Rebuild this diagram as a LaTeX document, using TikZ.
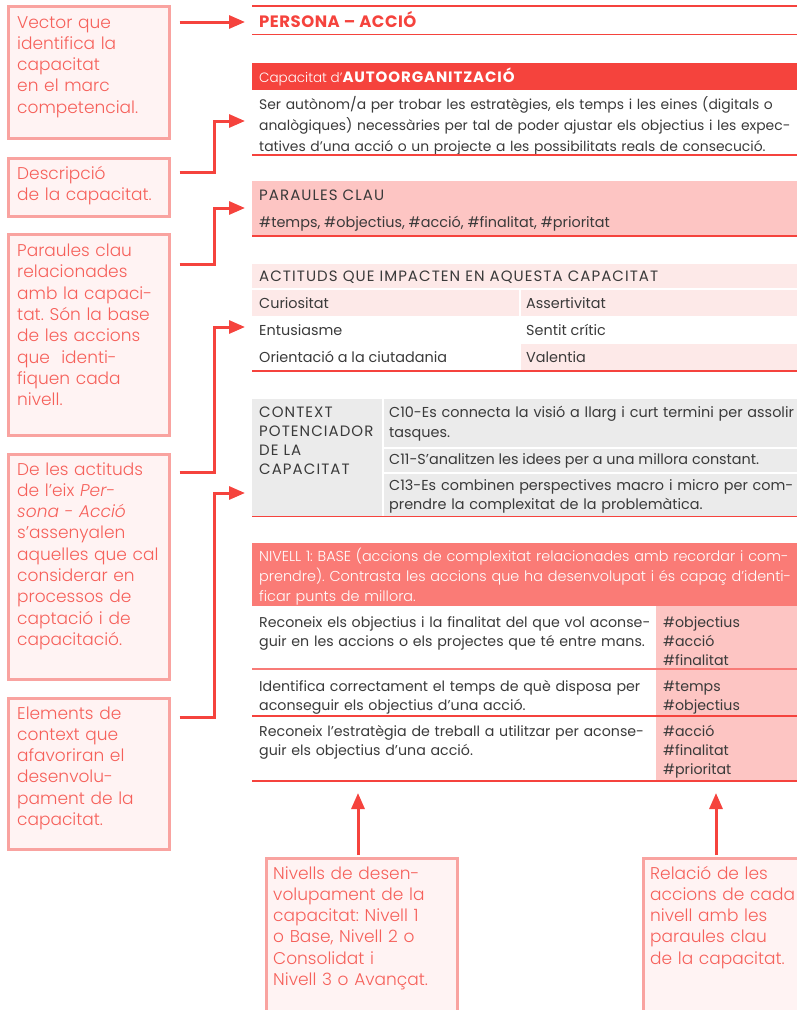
\documentclass[tikz,border=0pt]{standalone}
\usepackage{fontspec}
\usetikzlibrary{arrows.meta}
\setmainfont{Poppins}
\IfFontExistsTF{Poppins Light}{%
  \IfFontExistsTF{Poppins Light Italic}%
    {\newfontfamily\lightfont{Poppins Light}[ItalicFont={Poppins Light Italic}]}%
    {\newfontfamily\lightfont{Poppins Light}[AutoFakeSlant=0.2]}%
}{\newfontfamily\lightfont{Poppins}}

\definecolor{accent}{HTML}{F5433D}
\definecolor{boxedge}{HTML}{F9A3A0}
\definecolor{boxfill}{HTML}{FFF3F3}
\definecolor{boxtext}{HTML}{F6605A}
\definecolor{keypink}{HTML}{FDC5C3}
\definecolor{softpink}{HTML}{FDE9E8}
\definecolor{ctxgray}{HTML}{EBEBEB}
\definecolor{levelbar}{HTML}{FA7B76}
\definecolor{bodytext}{HTML}{3A3A3A}

% wide capitals used in the table headings
\newcommand{\capsfont}{\fontsize{15}{19}\selectfont\addfontfeature{LetterSpace=7}}
% one justified line of the description
\newcommand{\fullline}[1]{\makebox[533pt][s]{#1}}

\begin{document}
\frenchspacing
\begin{tikzpicture}[x=1pt,y=-1pt,
  note/.style={draw=boxedge, line width=2.6pt, fill=boxfill, anchor=north west, inner sep=0pt},
  notetext/.style={anchor=base west, inner sep=0pt, text width=#1, align=left, text=boxtext,
    font=\lightfont\fontsize{17}{21.3}\selectfont},
  body/.style={anchor=base west, inner sep=0pt, text=bodytext, font=\fontsize{14.4}{20}\selectfont},
  bodym/.style={body, text width=#1, align=left},
  arr/.style={accent, line width=3pt, -{Triangle[length=16pt,width=13pt]}},
  rule/.style={accent, line width=1.5pt},
]
\useasboundingbox (0,0) rectangle (797,1010);

% ---------- explanatory notes ----------
\node[note, minimum width=161pt, minimum height=132pt] (b1) at (7,5) {};
\node[notetext=155pt] (b1t) at (17,28) {Vector que\\identifica la\\capacitat\\en el marc\\competencial.};

\node[note, minimum width=161pt, minimum height=58pt] (b2) at (7,157) {};
\node[notetext=155pt] (b2t) at (17,179.5) {Descripció\\de la capacitat.};

\node[note, minimum width=161pt, minimum height=201pt] (b3) at (7,233) {};
\node[notetext=155pt] (b3t) at (17,256.5) {Paraules clau\\relacionades\\amb la capaci-\\tat. Són la base\\de les accions\\que~ identi-\\fiquen cada\\nivell.};

\node[note, minimum width=161pt, minimum height=225pt] (b4) at (7,453) {};
\node[notetext=155pt] (b4t) at (17,475) {De les actituds\\de l’eix \textit{Per-}\\\textit{sona - Acció}\\s’assenyalen\\aquelles que cal\\considerar en\\processos de\\captació i de\\capacitació.};

\node[note, minimum width=161pt, minimum height=151pt] (b5) at (7,697) {};
\node[notetext=155pt] (b5t) at (17,719) {Elements de\\context que\\afavoriran el\\desenvolu-\\pament de la\\capacitat.};

\node[note, minimum width=191pt, minimum height=165pt] (b6) at (265,857) {};
\node[notetext=185pt] (b6t) at (273,879) {Nivells de desen-\\volupament de la\\capacitat: Nivell 1\\o Base, Nivell 2 o\\Consolidat i\\Nivell 3 o Avançat.};

\node[note, minimum width=170pt, minimum height=165pt] (b7) at (642,857) {};
\node[notetext=165pt] (b7t) at (650,879) {Relació de les\\accions de cada\\nivell amb les\\paraules clau\\de la capacitat.};

% ---------- arrow targets ----------
\coordinate (t1) at (245,22);
\coordinate (t2) at (245,121);
\coordinate (t3) at (245,208);
\coordinate (t4) at (245,327);
\coordinate (t5) at (245,493);
\coordinate (t6) at (358,793);
\coordinate (t7) at (716,793);

% ---------- title ----------
\draw[rule] (252,6) -- (800,6);
\node[body, font=\bfseries\fontsize{16.5}{18}\selectfont\addfontfeature{LetterSpace=3}, text=accent] (title) at (259,27.5) {PERSONA – ACCIÓ};
\draw[rule] (252,34.5) -- (800,34.5);

% ---------- capacity and description ----------
\fill[accent] (252,63) rectangle (800,90);
\node[body, text=white, font=\lightfont\fontsize{13.5}{16}\selectfont] (captitle) at (259,82)
  {Capacitat d’{\normalfont\bfseries\fontsize{15}{16}\selectfont\addfontfeature{LetterSpace=6}AUTOORGANITZACIÓ}};
\node[bodym=600pt, font=\fontsize{13.9}{21}\selectfont] (desc) at (259,109)
  {\fullline{Ser autònom/a per trobar les estratègies, els temps i les eines (digitals o}\\\fullline{analògiques) necessàries per tal de poder ajustar els objectius i les expec-}\\tatives d’una acció o un projecte a les possibilitats reals de consecució.};
\draw[rule] (252,155) -- (800,155);

% ---------- key words ----------
\fill[keypink] (252,181) rectangle (800,236);
\node[body, font=\capsfont] (kwhead) at (259,200) {PARAULES CLAU};
\node[body] (kwlist) at (259,227) {\#temps, \#objectius, \#acció, \#finalitat, \#prioritat};
\draw[rule] (252,236) -- (800,236);

% ---------- attitudes ----------
\fill[softpink] (252,264) rectangle (800,288);
\fill[softpink] (252,290) rectangle (518.5,316);
\fill[softpink] (521,290) rectangle (800,316);
\fill[softpink] (521,344) rectangle (800,370);
\node[body, font=\capsfont] (athead) at (259,281) {ACTITUDS QUE IMPACTEN EN AQUESTA CAPACITAT};
\node[body] (at1) at (259,308) {Curiositat};
\node[body] (at2) at (526,308) {Assertivitat};
\node[body] (at3) at (259,335) {Entusiasme};
\node[body] (at4) at (526,335) {Sentit crític};
\node[body] (at5) at (259,362) {Orientació a la ciutadania};
\node[body] (at6) at (526,362) {Valentia};
\draw[rule] (252,371) -- (800,371);

% ---------- context ----------
\fill[ctxgray] (252,399) rectangle (382,516);
\fill[ctxgray] (384,399) rectangle (800,447);
\fill[ctxgray] (384,449) rectangle (800,472);
\fill[ctxgray] (384,474) rectangle (800,516);
\node[bodym=128pt, font=\capsfont] (ctxhead) at (259,417) {CONTEXT\\POTENCIADOR\\DE LA\\CAPACITAT};
\node[bodym=450pt] (c10) at (389,417) {C10-Es connecta la visió a llarg i curt termini per assolir\\tasques.};
\node[body] (c11) at (389,464) {C11-S’analitzen les idees per a una millora constant.};
\node[bodym=450pt, font=\fontsize{14.4}{19}\selectfont] (c13) at (389,490) {C13-Es combinen perspectives macro i micro per com-\\prendre la complexitat de la problemàtica.};
\draw[rule] (252,516.5) -- (800,516.5);

% ---------- level 1 ----------
\fill[levelbar] (252,543) rectangle (800,606);
\node[bodym=600pt, text=white, font=\lightfont\fontsize{14.4}{20}\selectfont] (lvlhead) at (259,561)
  {NIVELL 1: BASE (accions de complexitat relacionades amb recordar i com-\\prendre). Contrasta les accions que ha desenvolupat i és capaç d’identi-\\ficar punts de millora.};
\fill[keypink] (656,606) rectangle (800,781);
\node[bodym=440pt, font=\fontsize{14.2}{19}\selectfont] (r1) at (259,627) {Reconeix els objectius i la finalitat del que vol aconse-\\guir en les accions o els projectes que té entre mans.};
\node[bodym=138pt, font=\fontsize{14.2}{19}\selectfont] (k1) at (663,627) {\#objectius\\\#acció\\\#finalitat};
\draw[rule, accent!70] (252,669) -- (800,669);
\node[bodym=440pt, font=\fontsize{14.2}{19}\selectfont] (r2) at (259,691) {Identifica correctament el temps de què disposa per\\aconseguir els objectius d’una acció.};
\node[bodym=138pt, font=\fontsize{14.2}{19}\selectfont] (k2) at (663,691) {\#temps\\\#objectius};
\draw[rule] (252,716) -- (800,716);
\node[bodym=440pt, font=\fontsize{14.2}{19}\selectfont] (r3) at (259,736) {Reconeix l’estratègia de treball a utilitzar per aconse-\\guir els objectius d’una acció.};
\node[bodym=138pt, font=\fontsize{14.2}{19}\selectfont] (k3) at (663,736) {\#acció\\\#finalitat\\\#prioritat};
\draw[rule] (252,781) -- (800,781);

% ---------- connectors ----------
\draw[arr] ([xshift=9pt]b1.east |- t1) -- (t1);
\draw[arr] ([xshift=9pt,yshift=-15pt]b2.north east) -- ++(35,0) |- (t2);
\draw[arr] ([xshift=9pt,yshift=-31pt]b3.north east) -- ++(35,0) |- (t3);
\draw[arr] ([xshift=9pt,yshift=-19pt]b4.north east) -- ++(35,0) |- (t4);
\draw[arr] ([xshift=9pt,yshift=-20pt]b5.north east) -- ++(35,0) |- (t5);
\draw[arr] ([yshift=2pt]b6.north -| t6) -- (t6);
\draw[arr] ([yshift=2pt]b7.north -| t7) -- (t7);
\end{tikzpicture}
\end{document}
